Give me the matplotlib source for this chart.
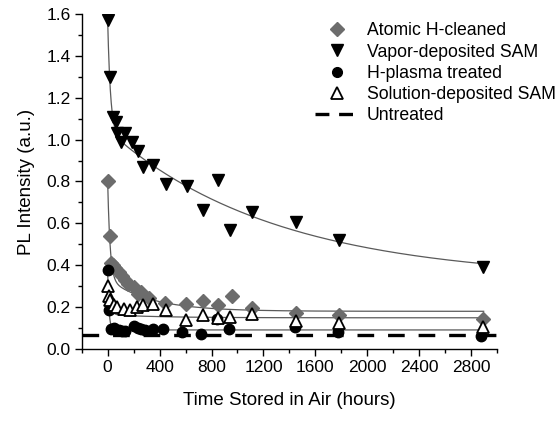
import numpy as np
import matplotlib
matplotlib.use("Agg")
import matplotlib.pyplot as plt
from matplotlib.lines import Line2D
from matplotlib.ticker import MultipleLocator, FormatStrFormatter

plt.rcParams['font.family'] = ['Liberation Sans', 'DejaVu Sans']
plt.rcParams['lines.scale_dashes'] = False

# ---- data ----
atomic_x = [0, 15, 22, 40, 60, 85, 110, 135, 160, 200, 230, 260, 315, 442, 600, 731, 851, 954, 1115, 1452, 1785, 2891]
atomic_y = [0.80, 0.54, 0.41, 0.40, 0.385, 0.37, 0.35, 0.33, 0.31, 0.295, 0.262, 0.27, 0.242, 0.222, 0.215, 0.231, 0.21, 0.255, 0.194, 0.173, 0.162, 0.142]

vapor_x = [0, 15, 38, 67, 72, 105, 130, 187, 233, 276, 353, 450, 609, 736, 851, 946, 1115, 1452, 1785, 2891]
vapor_y = [1.57, 1.30, 1.11, 1.085, 1.03, 0.99, 1.03, 0.99, 0.947, 0.868, 0.879, 0.79, 0.778, 0.664, 0.807, 0.568, 0.653, 0.608, 0.52, 0.39]

plasma_x = [0, 8, 25, 45, 65, 85, 110, 130, 205, 235, 260, 290, 350, 430, 570, 716, 840, 933, 1440, 1775, 2875]
plasma_y = [0.375, 0.185, 0.095, 0.10, 0.092, 0.09, 0.088, 0.085, 0.11, 0.10, 0.097, 0.09, 0.095, 0.097, 0.08, 0.072, 0.145, 0.095, 0.105, 0.083, 0.062]

solution_x = [0, 8, 21, 45, 72, 123, 174, 225, 276, 350, 446, 600, 731, 851, 946, 1115, 1452, 1785, 2891]
solution_y = [0.30, 0.255, 0.234, 0.21, 0.199, 0.19, 0.184, 0.202, 0.21, 0.216, 0.186, 0.14, 0.162, 0.147, 0.154, 0.166, 0.135, 0.123, 0.107]

untreated_level = 0.067
untreated_range = [-200, 2990]

# double-exponential fit parameters: (y0, A1, t1, A2, t2)
fit_atomic = (0.18, 0.465, 18.6, 0.155, 330.0)
fit_vapor = (0.33, 0.526, 21.6, 0.714, 1300.0)
fit_plasma = (0.091, 0.284, 10.0, 0.0, 1.0)
fit_solution = (0.149, 0.136, 18.0, 0.015, 400.0)
fit_range = (0, 2896)

labels = ["Atomic H-cleaned", "Vapor-deposited SAM", "H-plasma treated",
          "Solution-deposited SAM", "Untreated"]

# ---- figure ----
fig = plt.figure(figsize=(5.58, 4.22), dpi=100)
ax = fig.add_axes([0.1464, 0.173, 0.7446, 0.794])

xf = np.linspace(fit_range[0], fit_range[1], 2000)
def fit(p):
    y0, a1, t1, a2, t2 = p
    return y0 + a1 * np.exp(-xf / t1) + a2 * np.exp(-xf / t2)

fitcol = '#5a5a5a'
for p in (fit_atomic, fit_vapor, fit_plasma, fit_solution):
    ax.plot(xf, fit(p), color=fitcol, lw=0.9, zorder=2)

ax.plot(untreated_range, [untreated_level, untreated_level], color='black',
        lw=2.4, dashes=(12, 10), zorder=3, solid_capstyle='butt', dash_capstyle='butt')

gray = '#6c6c6c'
ax.plot(atomic_x, atomic_y, ls='none', marker='D', ms=7.5, mfc=gray, mec=gray, zorder=4)
ax.plot(vapor_x, vapor_y, ls='none', marker='v', ms=9, mfc='black', mec='black', zorder=4)
ax.plot(plasma_x, plasma_y, ls='none', marker='o', ms=7.5, mfc='black', mec='black', zorder=4)
ax.plot(solution_x, solution_y, ls='none', marker='^', ms=9, mfc='white', mec='black', mew=1.3, zorder=5)

ax.set_xlim(-200, 3000)
ax.set_ylim(0, 1.6)
ax.xaxis.set_major_locator(MultipleLocator(400))
ax.xaxis.set_minor_locator(MultipleLocator(200))
ax.yaxis.set_major_locator(MultipleLocator(0.2))
ax.yaxis.set_minor_locator(MultipleLocator(0.1))
ax.yaxis.set_major_formatter(FormatStrFormatter('%.1f'))

for s in ('top', 'right'):
    ax.spines[s].set_visible(False)
for s in ('left', 'bottom'):
    ax.spines[s].set_linewidth(1.0)
ax.tick_params(which='major', direction='out', length=5, width=1.0, labelsize=12.5, pad=3)
ax.tick_params(which='minor', direction='out', length=2.8, width=1.0)

ax.set_xlabel("Time Stored in Air (hours)", fontsize=13.5, labelpad=12)
ax.set_ylabel("PL Intensity (a.u.)", fontsize=13.5, labelpad=8)

handles = [
    Line2D([], [], ls='none', marker='D', ms=7, mfc=gray, mec=gray),
    Line2D([], [], ls='none', marker='v', ms=8, mfc='black', mec='black'),
    Line2D([], [], ls='none', marker='o', ms=7, mfc='black', mec='black'),
    Line2D([], [], ls='none', marker='^', ms=8, mfc='white', mec='black', mew=1.3),
    Line2D([], [], color='black', lw=2.4, dashes=(10, 7)),
]
ax.legend(handles, labels, loc='upper left', bbox_to_anchor=(0.561, 0.975),
          frameon=False, fontsize=12.7, handlelength=2.5, handletextpad=0.45,
          labelspacing=0.24, borderpad=0, borderaxespad=0)

fig.savefig("out.png", dpi=100)
